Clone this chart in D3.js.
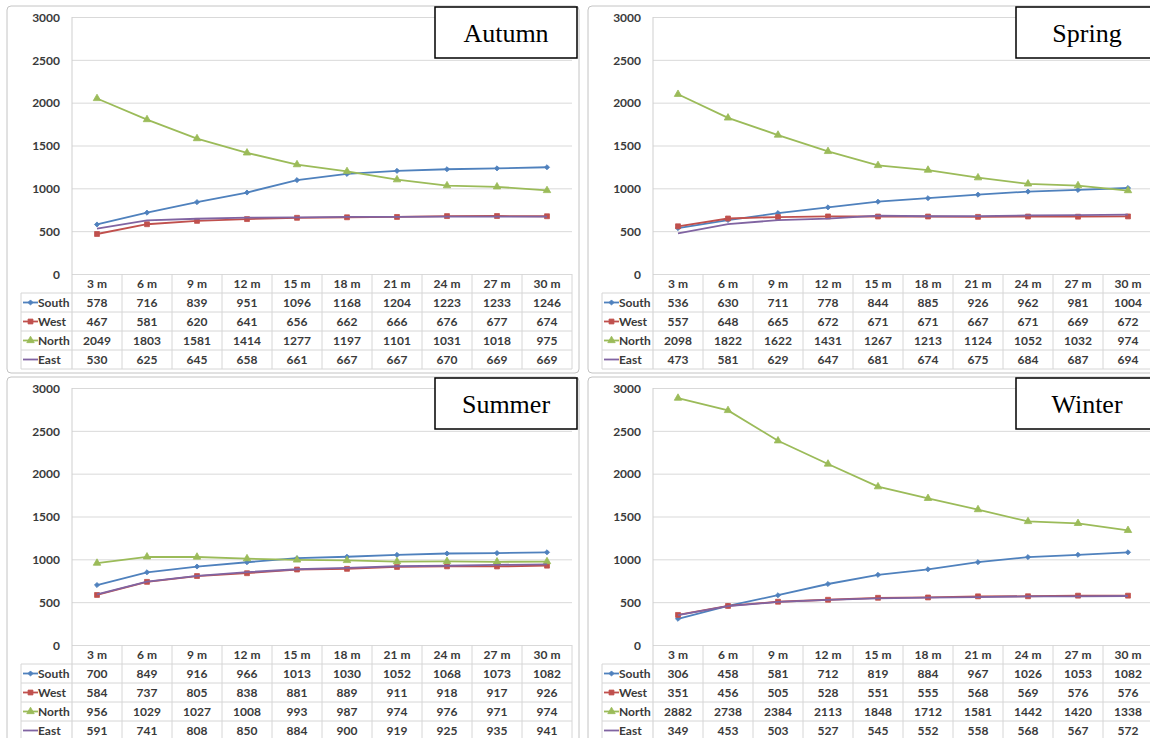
<!DOCTYPE html>
<html>
<head>
<meta charset="utf-8">
<script src="https://cdn.jsdelivr.net/npm/d3@7"></script>
<style>
  body { margin: 0; background: #fff; }
  .num { font-family: Lato, "Open Sans", sans-serif; font-weight: bold; font-size: 12px; fill: #3a3a3a; }
  .season { font-family: "Liberation Serif", "Times New Roman", serif; font-size: 26px; fill: #000; }
</style>
</head>
<body>
<div class="chart"></div>
<script>
// Categories and series
var months = ["3 m", "6 m", "9 m", "12 m", "15 m", "18 m", "21 m", "24 m", "27 m", "30 m"];
var seriesNames = ["South", "West", "North", "East"];
var seasonNames = ["Autumn", "Spring", "Summer", "Winter"];
var yTicks = [0, 500, 1000, 1500, 2000, 2500, 3000];

// Values per season, rows in the order South, West, North, East
var autumn = [
  [578, 716, 839, 951, 1096, 1168, 1204, 1223, 1233, 1246],
  [467, 581, 620, 641, 656, 662, 666, 676, 677, 674],
  [2049, 1803, 1581, 1414, 1277, 1197, 1101, 1031, 1018, 975],
  [530, 625, 645, 658, 661, 667, 667, 670, 669, 669]
];
var spring = [
  [536, 630, 711, 778, 844, 885, 926, 962, 981, 1004],
  [557, 648, 665, 672, 671, 671, 667, 671, 669, 672],
  [2098, 1822, 1622, 1431, 1267, 1213, 1124, 1052, 1032, 974],
  [473, 581, 629, 647, 681, 674, 675, 684, 687, 694]
];
var summer = [
  [700, 849, 916, 966, 1013, 1030, 1052, 1068, 1073, 1082],
  [584, 737, 805, 838, 881, 889, 911, 918, 917, 926],
  [956, 1029, 1027, 1008, 993, 987, 974, 976, 971, 974],
  [591, 741, 808, 850, 884, 900, 919, 925, 935, 941]
];
var winter = [
  [306, 458, 581, 712, 819, 884, 967, 1026, 1053, 1082],
  [351, 456, 505, 528, 551, 555, 568, 569, 576, 576],
  [2882, 2738, 2384, 2113, 1848, 1712, 1581, 1442, 1420, 1338],
  [349, 453, 503, 527, 545, 552, 558, 568, 567, 572]
];
var seasonData = [autumn, spring, summer, winter];

// Look of the series (Excel 2007 defaults)
var colors = ["#4f81bd", "#c0504d", "#9bbb59", "#8064a2"];
var symbols = [d3.symbolSquare, d3.symbolSquare, d3.symbolTriangle, null];
var symbolSizes = [13, 24, 24, 0];
var symbolRotate = [45, 0, 0, 0];

// Where each panel sits on the page
var panelOrigins = [[0, 0], [581, 0], [0, 371], [581, 371]];

var svgWidth = 1150;
var svgHeight = 738;

// Plot area and table geometry inside a panel
var plotLeft = 72, plotRight = 572, plotTop = 17, plotBottom = 274;
var rowHeight = 19;
var legendLeft = 21;

var svg = d3.select(".chart")
  .append("svg")
  .attr("width", svgWidth)
  .attr("height", svgHeight);

// Scales shared by all panels
var x = d3.scaleBand().domain(months).range([plotLeft, plotRight]);
var y = d3.scaleLinear().domain([0, 3000]).range([plotBottom, plotTop]);
var cx = function(i) { return x(months[i]) + x.bandwidth() / 2; };

var line = d3.line()
  .x(function(d, i) { return cx(i); })
  .y(function(d) { return y(d); });

function drawMarker(g, k, px, py) {
  if (!symbols[k]) return;
  g.append("path")
    .attr("d", d3.symbol().type(symbols[k]).size(symbolSizes[k])())
    .attr("transform", "translate(" + px + "," + py + ") rotate(" + symbolRotate[k] + ")")
    .attr("fill", colors[k])
    .attr("stroke", colors[k])
    .attr("stroke-width", 0.8);
}

seasonNames.forEach(function(season, p) {
  var data = seasonData[p];
  var panel = svg.append("g")
    .attr("transform", "translate(" + panelOrigins[p][0] + "," + panelOrigins[p][1] + ")");

  // Chart area border
  panel.append("rect")
    .attr("x", 7).attr("y", 6)
    .attr("width", 572).attr("height", 367)
    .attr("rx", 4)
    .attr("fill", "#fff")
    .attr("stroke", "#c4c4c4");

  // Y axis with gridlines
  var yAxis = panel.append("g")
    .attr("transform", "translate(" + plotLeft + ",0)")
    .call(d3.axisLeft(y).tickValues(yTicks).tickFormat(d3.format("d"))
      .tickSize(-(plotRight - plotLeft)).tickPadding(12));
  yAxis.select(".domain").remove();
  yAxis.selectAll("line").attr("stroke", "#d9d9d9");
  yAxis.selectAll("text").attr("class", "num").attr("fill", "#3a3a3a").attr("dy", "0.35em");

  panel.append("line")
    .attr("x1", plotLeft).attr("x2", plotLeft)
    .attr("y1", plotTop).attr("y2", plotBottom + rowHeight * 5)
    .attr("stroke", "#cfcfcf");

  // Data table grid
  var tableBottom = plotBottom + rowHeight * 5;
  d3.range(1, 6).forEach(function(r) {
    panel.append("line")
      .attr("x1", legendLeft).attr("x2", plotRight)
      .attr("y1", plotBottom + rowHeight * r).attr("y2", plotBottom + rowHeight * r)
      .attr("stroke", "#d6d6d6");
  });
  months.forEach(function(m) {
    panel.append("line")
      .attr("x1", x(m) + x.bandwidth()).attr("x2", x(m) + x.bandwidth())
      .attr("y1", plotBottom).attr("y2", tableBottom)
      .attr("stroke", "#d6d6d6");
  });
  panel.append("line")
    .attr("x1", legendLeft).attr("x2", legendLeft)
    .attr("y1", plotBottom + rowHeight).attr("y2", tableBottom)
    .attr("stroke", "#d6d6d6");

  // Header row
  panel.selectAll(".head")
    .data(months)
    .enter().append("text")
    .attr("class", "num")
    .attr("x", function(d) { return x(d) + x.bandwidth() / 2; })
    .attr("y", plotBottom + rowHeight / 2)
    .attr("dy", "0.35em")
    .attr("text-anchor", "middle")
    .text(function(d) { return d; });

  // Value rows with legend keys
  data.forEach(function(values, k) {
    var rowY = plotBottom + rowHeight * (k + 1) + rowHeight / 2;
    panel.append("line")
      .attr("x1", legendLeft + 2).attr("x2", legendLeft + 17)
      .attr("y1", rowY).attr("y2", rowY)
      .attr("stroke", colors[k]).attr("stroke-width", 1.8);
    drawMarker(panel, k, legendLeft + 9.5, rowY);
    panel.append("text")
      .attr("class", "num")
      .attr("x", legendLeft + 17)
      .attr("y", rowY)
      .attr("dy", "0.35em")
      .text(seriesNames[k]);
    values.forEach(function(v, i) {
      panel.append("text")
        .attr("class", "num")
        .attr("x", cx(i))
        .attr("y", rowY)
        .attr("dy", "0.35em")
        .attr("text-anchor", "middle")
        .text(v);
    });
  });

  // Series lines and markers
  data.forEach(function(values, k) {
    panel.append("path")
      .datum(values)
      .attr("d", line)
      .attr("fill", "none")
      .attr("stroke", colors[k])
      .attr("stroke-width", 1.8);
    values.forEach(function(v, i) { drawMarker(panel, k, cx(i), y(v)); });
  });

  // Season label box
  panel.append("rect")
    .attr("x", 435).attr("y", 7)
    .attr("width", 142).attr("height", 51)
    .attr("fill", "#fff")
    .attr("stroke", "#000")
    .attr("stroke-width", 1.5);
  panel.append("text")
    .attr("class", "season")
    .attr("x", 506).attr("y", 33)
    .attr("dy", "0.35em")
    .attr("text-anchor", "middle")
    .text(season);
});
</script>
</body>
</html>
